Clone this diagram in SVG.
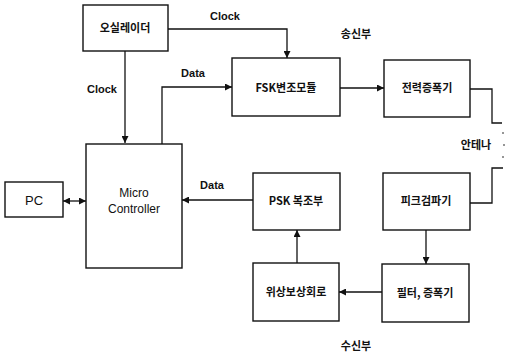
<svg xmlns="http://www.w3.org/2000/svg" width="507" height="354" viewBox="0 0 507 354">
<defs>
<style>
.box{fill:#fff;stroke:#111;stroke-width:1.4}
.ln{fill:none;stroke:#111;stroke-width:1.3}
.t{font-family:"Liberation Sans","Noto Sans CJK KR",sans-serif;font-size:11px;fill:#111;text-anchor:middle}
.b{font-weight:bold}
.k{font-family:"Noto Sans CJK KR","Liberation Sans",sans-serif;font-size:11px;fill:#111;text-anchor:middle;font-weight:bold}
</style>
<marker id="ah" viewBox="0 0 10 10" refX="10" refY="5" markerWidth="7" markerHeight="7" orient="auto-start-reverse" markerUnits="userSpaceOnUse">
<path d="M0,0L10,5L0,10z" fill="#111"/>
</marker>
</defs>
<rect width="507" height="354" fill="#fff"/>
<g id="connectors">
<path class="ln" d="M168,29H287V58" marker-end="url(#ah)"/>
<path class="ln" d="M125,51V143" marker-end="url(#ah)"/>
<path class="ln" d="M162,144V87H232" marker-end="url(#ah)"/>
<path class="ln" d="M63,201H86" marker-start="url(#ah)" marker-end="url(#ah)"/>
<path class="ln" d="M340,88H384" marker-end="url(#ah)"/>
<path class="ln" d="M470,89H492V123H502"/>
<path class="ln" d="M503,168H492V203H470"/>
<path class="ln" d="M253,200H182" marker-end="url(#ah)"/>
<path class="ln" d="M426,230V264" marker-end="url(#ah)"/>
<path class="ln" d="M382,292H339" marker-end="url(#ah)"/>
<path class="ln" d="M297,263V230" marker-end="url(#ah)"/>
<g fill="#111"><circle cx="503" cy="133" r="0.8"/><circle cx="504" cy="145" r="0.8"/><circle cx="503" cy="157" r="0.8"/></g>
</g>
<g id="osc"><rect class="box" x="83" y="5" width="85" height="46"/><text class="k" x="125" y="32">오실레이더</text></g>
<g id="fsk"><rect class="box" x="232" y="58" width="108" height="58"/><text class="k" x="286" y="92">FSK변조모듈</text></g>
<g id="pamp"><rect class="box" x="384" y="60" width="86" height="57"/><text class="k" x="427" y="92">전력증폭기</text></g>
<g id="mc"><rect class="box" x="86" y="144" width="96" height="124"/><text class="t" x="134" y="197" style="font-size:12px">Micro</text><text class="t" x="134" y="213" style="font-size:12px">Controller</text></g>
<g id="pc"><rect class="box" x="5" y="182" width="58" height="35"/><text class="t" x="34" y="205" style="font-size:13px">PC</text></g>
<g id="psk"><rect class="box" x="253" y="173" width="87" height="57"/><text class="k" x="296" y="205">PSK 복조부</text></g>
<g id="peak"><rect class="box" x="383" y="173" width="87" height="57"/><text class="k" x="426" y="205">피크검파기</text></g>
<g id="filter"><rect class="box" x="382" y="264" width="87" height="58"/><text class="k" x="425" y="297">필터, 증폭기</text></g>
<g id="phase"><rect class="box" x="253" y="263" width="86" height="58"/><text class="k" x="296" y="296">위상보상회로</text></g>
<g id="labels">
<text class="t b" x="225" y="20">Clock</text>
<text class="t b" x="102" y="93">Clock</text>
<text class="t b" x="193" y="77">Data</text>
<text class="t b" x="212" y="189">Data</text>
<text class="k" x="356" y="38">송신부</text>
<text class="k" x="476" y="149">안테나</text>
<text class="k" x="356" y="350">수신부</text>
</g>
</svg>
